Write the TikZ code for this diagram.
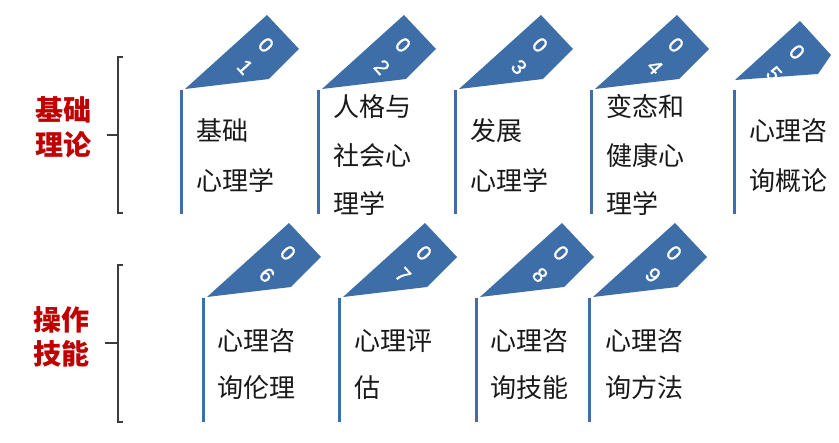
\documentclass[tikz,border=0pt]{standalone}
\usepackage{fontspec}
\usepackage{graphicx}
\newfontfamily\cjk{Noto Sans CJK SC}
\newfontfamily\digfont[FakeBold=1.2]{Liberation Sans}
\definecolor{tabblue}{RGB}{62,110,168}
\definecolor{labred}{RGB}{192,0,0}
\definecolor{brk}{RGB}{60,60,60}
\definecolor{txtc}{RGB}{25,25,25}
\newcommand{\tabdigit}[1]{\rotatebox[origin=c]{-48}{#1}}
\begin{document}
\begin{tikzpicture}[x=1pt,y=-1pt,
  card/.style={draw=tabblue,line width=3pt},
  tabshape/.style={fill=tabblue},
  txt/.style={anchor=base west,inner sep=0pt,text=txtc,font=\cjk\fontsize{26}{26}\selectfont},
  digit/.style={inner sep=0pt,text=white,font=\digfont\fontsize{21}{21}\selectfont},
  lab/.style={inner sep=0pt,text=labred,font=\cjk\bfseries\fontsize{28}{28}\selectfont},
  brace/.style={draw=brk,line width=1.5pt}]
\fill[white] (0,0) rectangle (839,443);
\useasboundingbox (0,0) rectangle (839,443);

% brackets
\coordinate (b1a) at (123,57); \coordinate (b1b) at (118,57);
\coordinate (b1c) at (118,213); \coordinate (b1d) at (123,213);
\coordinate (b1m) at (118,135); \coordinate (b1e) at (107,135);
\draw[brace] (b1a) -- (b1b) -- (b1c) -- (b1d);
\draw[brace] (b1m) -- (b1e);
\coordinate (b2a) at (123,265); \coordinate (b2b) at (118,265);
\coordinate (b2c) at (118,422); \coordinate (b2d) at (123,422);
\coordinate (b2m) at (118,343); \coordinate (b2e) at (105,343);
\draw[brace] (b2a) -- (b2b) -- (b2c) -- (b2d);
\draw[brace] (b2m) -- (b2e);

% group labels
\node[lab] (l1a) at (63,110) {基础};
\node[lab] (l1b) at (63,145) {理论};
\node[lab] (l2a) at (62,320) {操作};
\node[lab] (l2b) at (62,354) {技能};

% cards: lines, tabs and digits
\foreach \n/\x/\y/\d in {1/181/90/1,2/318/90/2,3/455/90/3,4/591/90/4,
                          6/203/298/6,7/339/298/7,8/476/298/8,9/589/298/9}{
  \coordinate (top\n) at (\x,\y);
  \coordinate (bot\n) at (\x,\y+124);
  \draw[card] (top\n) -- (bot\n);
  \fill[tabshape] (\x+4,\y-1) -- (\x+86,\y-75) -- (\x+118,\y-41) -- (\x+88,\y-11) -- cycle;
  \node[digit] (dz\n) at (\x+85,\y-45) {\tabdigit{0}};
  \node[digit] (dn\n) at (\x+64,\y-23) {\tabdigit{\d}};
}
% card 5 (partly cut at the right edge)
\coordinate (top5) at (734,90);
\coordinate (bot5) at (734,214);
\draw[card] (top5) -- (bot5);
\fill[tabshape] (735,80) -- (800,21) -- (831,55) -- (818,74) -- cycle;
\node[digit] (dz5) at (797,52) {\tabdigit{0}};
\node[digit] (dn5) at (774,74) {\tabdigit{5}};

% card texts
\node[txt] (t1a) at (196,141) {基础};
\node[txt] (t1b) at (196,191) {心理学};
\node[txt] (t2a) at (333,117) {人格与};
\node[txt] (t2b) at (333,166) {社会心};
\node[txt] (t2c) at (333,214) {理学};
\node[txt] (t3a) at (470,141) {发展};
\node[txt] (t3b) at (470,191) {心理学};
\node[txt] (t4a) at (606,117) {变态和};
\node[txt] (t4b) at (606,166) {健康心};
\node[txt] (t4c) at (606,214) {理学};
\node[txt] (t5a) at (749,141) {心理咨};
\node[txt] (t5b) at (749,191) {询概论};

\node[txt] (t6a) at (217,351) {心理咨};
\node[txt] (t6b) at (217,398) {询伦理};
\node[txt] (t7a) at (354,351) {心理评};
\node[txt] (t7b) at (354,398) {估};
\node[txt] (t8a) at (490,351) {心理咨};
\node[txt] (t8b) at (490,398) {询技能};
\node[txt] (t9a) at (605,351) {心理咨};
\node[txt] (t9b) at (605,398) {询方法};
\end{tikzpicture}
\end{document}
